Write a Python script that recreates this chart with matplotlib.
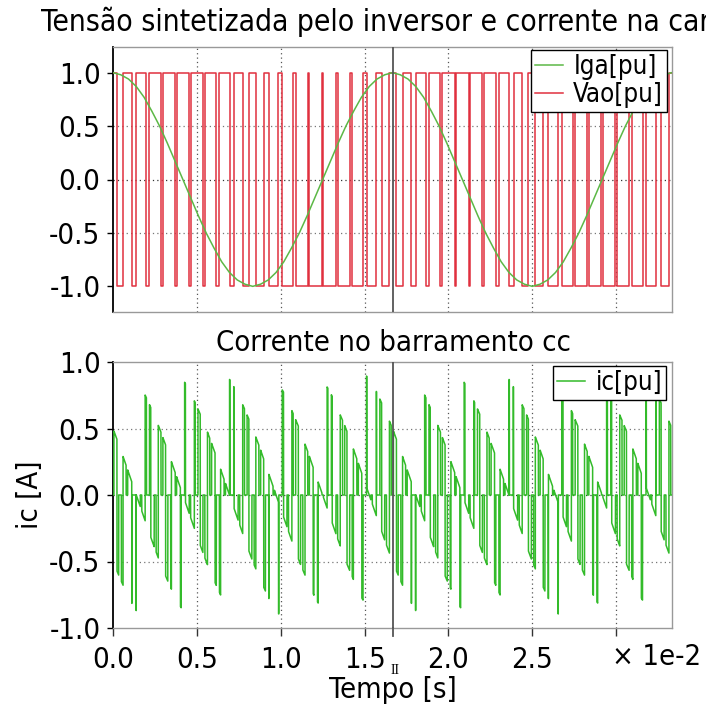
import numpy as np
import matplotlib
matplotlib.use("Agg")
import matplotlib.pyplot as plt
from matplotlib import font_manager

# ------------------------------------------------------------------ data
f_fund = 60.0          # fundamental frequency [Hz]
carrier_ratio = 20     # carrier periods per fundamental cycle
n_cycles = 2           # cycles in the record

# load current Iga [pu], one cycle sampled every 10 degrees
iga_cycle = [1.00, 0.98, 0.94, 0.87, 0.77, 0.64, 0.50, 0.34, 0.17,
             0.00, -0.17, -0.34, -0.50, -0.64, -0.77, -0.87, -0.94, -0.98,
             -1.00, -0.98, -0.94, -0.87, -0.77, -0.64, -0.50, -0.34, -0.17,
             0.00, 0.17, 0.34, 0.50, 0.64, 0.77, 0.87, 0.94, 0.98]

# fraction of each carrier period with the upper switch on (one cycle)
vao_high_duty = [0.56, 0.68, 0.78, 0.86, 0.90, 0.90, 0.86, 0.78, 0.68, 0.56,
                 0.44, 0.32, 0.22, 0.14, 0.10, 0.10, 0.14, 0.22, 0.32, 0.44]
vbo_high_duty = [0.13, 0.10, 0.11, 0.16, 0.25, 0.36, 0.48, 0.60, 0.72, 0.81,
                 0.87, 0.90, 0.89, 0.84, 0.75, 0.64, 0.52, 0.40, 0.28, 0.19]
vco_high_duty = [0.81, 0.72, 0.60, 0.48, 0.36, 0.25, 0.16, 0.11, 0.10, 0.13,
                 0.19, 0.28, 0.40, 0.52, 0.64, 0.75, 0.84, 0.89, 0.90, 0.87]

x_ticks = [0.0, 0.5, 1.0, 1.5, 2.0, 2.5, 3.0]
x_tick_labels = ["0.0", "0.5", "1.0", "1.5", "2.0", "2.5", ""]
y_ticks = [-1.0, -0.5, 0.0, 0.5, 1.0]
y_tick_labels = ["-1.0", "-0.5", "0.0", "0.5", "1.0"]

title_top = "Tensão sintetizada pelo inversor e corrente na carga"
title_bottom = "Corrente no barramento cc"

# ------------------------------------------------------------------ fonts
fams = {(f.name, f.stretch) for f in font_manager.fontManager.ttflist}
names = {n for n, _ in fams}
stretch = "normal"
if "DejaVu Sans Condensed" in names:
    family = "DejaVu Sans Condensed"
elif ("DejaVu Sans", "condensed") in fams:
    family, stretch = "DejaVu Sans", "condensed"
elif "Liberation Sans Narrow" in names:
    family = "Liberation Sans Narrow"
else:
    family = "DejaVu Sans"
plt.rcParams["font.family"] = [family, "DejaVu Sans"]
plt.rcParams["font.stretch"] = stretch
plt.rcParams["axes.unicode_minus"] = False
FS_TICK = 21
FS_TITLE = 21.5
FS_LABEL = 21
FS_LEG = 18.5

# ------------------------------------------------------------------ signals
T = 100.0 / f_fund            # one cycle in units of 1e-2 s
Tc = T / carrier_ratio
n_per = carrier_ratio * n_cycles
k = np.arange(n_per)

# pole voltage Vao: +1 at carrier valleys, -1 around carrier peaks
da = np.tile(vao_high_duty, n_cycles)
fall = (k + da / 2) * Tc
rise = (k + 1 - da / 2) * Tc
t_vao = np.concatenate([[0.0], np.column_stack([fall, rise]).ravel(), [n_cycles * T]])
vao = np.concatenate([[1.0], np.tile([-1.0, 1.0], n_per), [1.0]])


def full_record(cycle):
    cycle = list(cycle)
    return np.array(cycle * n_cycles + cycle[:1])


n_s = len(iga_cycle)
t_i = np.arange(n_s * n_cycles + 1) * T / n_s
ia_s = full_record(iga_cycle)
ib_s = full_record(np.roll(iga_cycle, n_s // 3))
ic_s = full_record(np.roll(iga_cycle, -n_s // 3))

# dc-bus current from switch states and phase currents
t = np.linspace(0.0, n_cycles * T, 48001)
kk = np.minimum((t // Tc).astype(int), n_per - 1)
u = t / Tc - kk


def switch_state(duty):
    d = np.tile(duty, n_cycles)[kk]
    return ((u < d / 2) | (u > 1 - d / 2)).astype(float)


idc = (switch_state(vao_high_duty) * np.interp(t, t_i, ia_s)
       + switch_state(vbo_high_duty) * np.interp(t, t_i, ib_s)
       + switch_state(vco_high_duty) * np.interp(t, t_i, ic_s))

# ------------------------------------------------------------------ figure
W, H = 706, 707
fig = plt.figure(figsize=(W / 100, H / 100), dpi=100)
ax1 = fig.add_axes([113 / W, 1 - 312 / H, 559 / W, 265 / H])
ax2 = fig.add_axes([113 / W, 1 - 628 / H, 559 / W, 266 / H])

RED = "#e0303f"
GREEN_I = "#5cb846"
GREEN_DC = "#33bb2a"

l_iga, = ax1.plot(t_i, ia_s, color=GREEN_I, lw=1.1, zorder=4, label="Iga[pu]")
l_vao, = ax1.plot(t_vao, vao, color=RED, lw=1.1, drawstyle="steps-post",
                  zorder=3, label="Vao[pu]")
l_dc, = ax2.plot(t, idc, color=GREEN_DC, lw=1.1, zorder=3, label="ic[pu]")

ax1.set_ylim(-1.24, 1.24)
ax2.set_ylim(-1.0, 1.0)

for ax in (ax1, ax2):
    ax.set_xlim(0, n_cycles * T)
    ax.set_xticks(x_ticks)
    ax.set_yticks(y_ticks)
    ax.set_yticklabels(y_tick_labels, fontsize=FS_TICK)
    for xv in x_ticks[1:]:
        ax.axvline(xv, color="#555555", lw=0.9, ls=(0, (1, 2.5)), zorder=1)
    for yv in (-0.5, 0.5):
        ax.axhline(yv, color="#777777", lw=0.9, ls=(0, (1, 2.5)), zorder=1)
    ax.axhline(0.0, color="#333333", lw=0.9, ls=(0, (1, 2.5)), zorder=1)
    ax.axvline(T, color="#555555", lw=1.3, zorder=5)
    for side in ("top", "right", "bottom"):
        ax.spines[side].set_color("#999999")
        ax.spines[side].set_linewidth(1.0)
    ax.spines["left"].set_color("black")
    ax.spines["left"].set_linewidth(1.3)
    ax.tick_params(axis="y", direction="out", length=4, width=1, pad=5)
    ax.tick_params(axis="x", direction="out", length=6, width=1, pad=7,
                   colors="#333333", labelcolor="black")

ax1.set_xticklabels([])
ax1.tick_params(axis="x", length=0)
ax2.set_xticklabels(x_tick_labels, fontsize=FS_TICK)
# cursor mark just below the time axis
ax2.plot([T, T], [-1.0, -1.06], color="#555555", lw=1.3, clip_on=False, zorder=5)

fig.text(392 / W, 1 - 22 / H, title_top, ha="center", va="center", fontsize=FS_TITLE)
fig.text(393 / W, 1 - 343 / H, title_bottom, ha="center", va="center", fontsize=FS_LABEL)
fig.text(30 / W, 1 - 495 / H, "ic [A]", ha="center", va="center",
         rotation=90, fontsize=FS_LABEL)
fig.text(393 / W, 1 - 690 / H, "Tempo [s]", ha="center", va="center", fontsize=FS_LABEL)
fig.text(612 / W, 1 - 657 / H, "× 1e-2", ha="left", va="center", fontsize=FS_TICK)
fig.text(395 / W, 1 - 671 / H, "II", ha="center", va="center", fontsize=10,
         family=["Liberation Serif", "DejaVu Serif"])

leg_kw = dict(fontsize=FS_LEG, frameon=True, fancybox=False, framealpha=1,
              edgecolor="black", borderpad=0.15, labelspacing=0.1,
              handlelength=1.1, handletextpad=0.4, borderaxespad=0)
lg1 = ax1.legend(handles=[l_iga, l_vao], loc="upper right",
                 bbox_to_anchor=(667 / W, 1 - 50 / H),
                 bbox_transform=fig.transFigure, **leg_kw)
lg2 = ax2.legend(handles=[l_dc], loc="upper right",
                 bbox_to_anchor=(666 / W, 1 - 366 / H),
                 bbox_transform=fig.transFigure, **leg_kw)
for lg in (lg1, lg2):
    lg.get_frame().set_linewidth(1.0)
    lg.set_zorder(10)

fig.savefig("out.png", dpi=100)
